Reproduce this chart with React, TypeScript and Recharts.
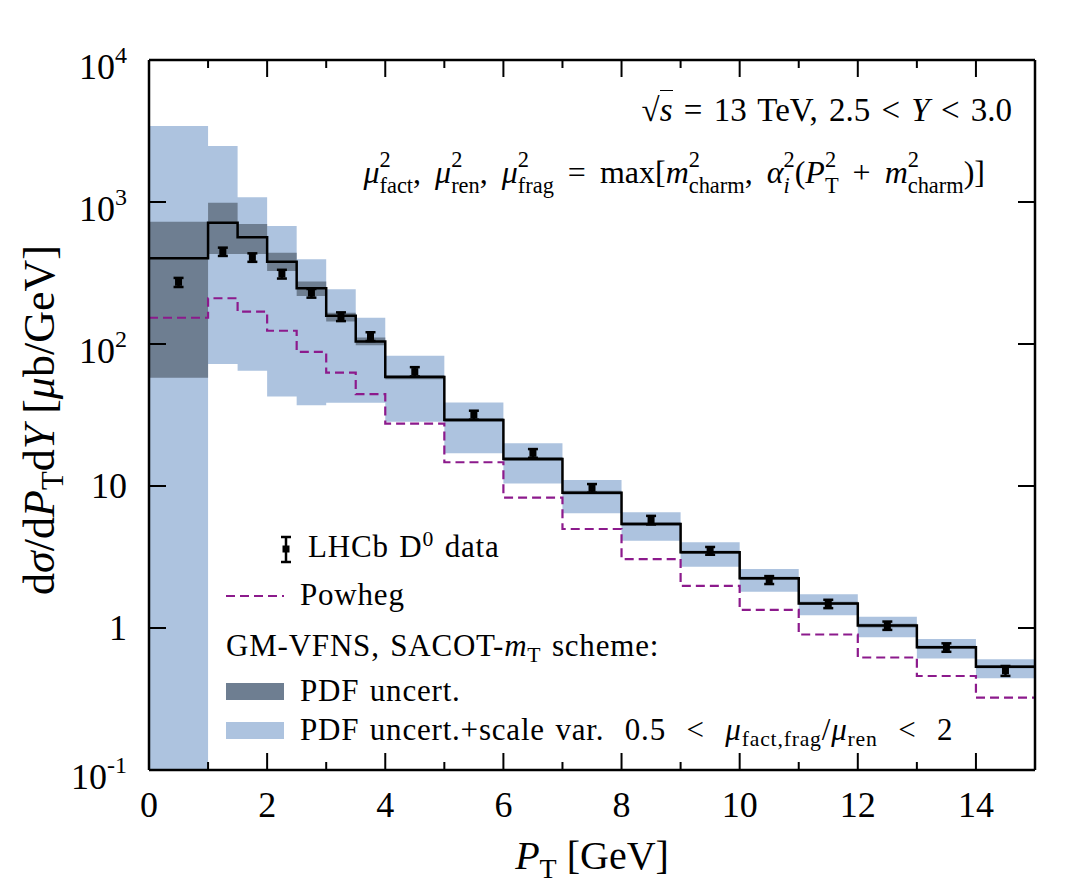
import React from "react";
import { ComposedChart, Area, Line, Scatter, ErrorBar, XAxis, YAxis } from "recharts";

const FONT = '"Liberation Serif", "DejaVu Serif", serif';
const W = 1068;
const H = 891;

// P_T bin edges [GeV]
const binEdges = [0, 1, 1.5, 2, 2.5, 3, 3.5, 4, 5, 6, 7, 8, 9, 10, 11, 12, 13, 14, 15];

// GM-VFNS (SACOT-mT) central values per bin [mub/GeV]
const gmvfnsCentral = [401, 715, 564, 380, 247, 158, 104, 58.5, 29.2, 15.5, 8.97, 5.4, 3.41, 2.24, 1.49, 1.04, 0.731, 0.534];
// PDF uncertainty band
const pdfLow = [57.9, 430, 430, 327, 218, 144, 98, 56.5, 28.3, 15.0, 8.7, 5.25, 3.32, 2.18, 1.45, 1.01, 0.712, 0.52];
const pdfHigh = [726, 988, 699, 440, 275, 166, 111, 60.5, 30.1, 16.0, 9.25, 5.55, 3.5, 2.3, 1.53, 1.07, 0.75, 0.548];
// PDF + scale variation band
const scaleLow = [0.1, 72.3, 64.8, 42.6, 37, 38.6, 38.6, 28.4, 17.0, 10.4, 6.42, 4.12, 2.7, 1.8, 1.23, 0.86, 0.611, 0.443];
const scaleHigh = [3428, 2479, 1079, 677, 395, 243, 153, 82.8, 38.8, 20.0, 11.0, 6.53, 4.01, 2.6, 1.73, 1.2, 0.837, 0.602];
// Powheg prediction
const powheg = [153, 210, 169, 124, 88, 62.8, 44.3, 27.5, 14.7, 8.28, 4.98, 3.06, 1.98, 1.34, 0.9, 0.62, 0.459, 0.323];

// LHCb D0 measurement
const lhcbPt = [0.5, 1.25, 1.75, 2.25, 2.75, 3.25, 3.75, 4.5, 5.5, 6.5, 7.5, 8.5, 9.5, 10.5, 11.5, 12.5, 13.5, 14.5];
const lhcbValue = [272, 447, 407, 311, 228, 156, 113, 63.9, 31.6, 17.0, 9.64, 5.76, 3.5, 2.18, 1.48, 1.04, 0.73, 0.5];
const lhcbErr = [20, 30, 28, 22, 16, 11, 8, 4.8, 2.3, 1.2, 0.68, 0.4, 0.22, 0.14, 0.1, 0.07, 0.05, 0.04];

const xTicks = [0, 1, 2, 3, 4, 5, 6, 7, 8, 9, 10, 11, 12, 13, 14, 15];
const yTicks = [0.1, 1, 10, 100, 1000, 10000];
const yTickBase = ["10", "1", "10", "10", "10", "10"];
const yTickExp = ["-1", "", "", "2", "3", "4"];

const binAt = (i: number) => Math.min(i, gmvfnsCentral.length - 1);
const stepRows = (vals: number[]) => binEdges.map((x, i) => ({ x, y: vals[binAt(i)] }));
const bandRows = (lo: number[], hi: number[]) =>
  binEdges.map((x, i) => ({ x, band: [lo[binAt(i)], hi[binAt(i)]] }));
const lhcbRows = lhcbPt.map((x, i) => ({ x, y: lhcbValue[i], err: lhcbErr[i] }));

const LIGHT = "#adc3df";
const DARK = "#6e7e91";
const PURPLE = "#8c1a8c";
const frame = { stroke: "#000", strokeWidth: 2.5 };

const BottomTick = ({ x, y, payload }: any) => {
  const major = payload.value % 2 === 0;
  return (
    <g>
      <line x1={x} x2={x} y1={y} y2={y - (major ? 17 : 8)} stroke="#000" strokeWidth={2} />
      {major && (
        <text x={x} y={y + 47} textAnchor="middle" fontSize={36} fontFamily={FONT} fill="#000">
          {payload.value}
        </text>
      )}
    </g>
  );
};

const TopTick = ({ x, y, payload }: any) => {
  const major = payload.value % 2 === 0;
  return <line x1={x} x2={x} y1={y} y2={y + (major ? 17 : 8)} stroke="#000" strokeWidth={2} />;
};

const LeftTick = ({ x, y, payload, index }: any) => {
  const i = yTicks.indexOf(payload.value);
  const k = i >= 0 ? i : index;
  const exp = yTickExp[k];
  return (
    <g>
      <line x1={x} x2={x + 17} y1={y} y2={y} stroke="#000" strokeWidth={2} />
      <text x={x - 22} y={y + (exp ? 19 : 12)} textAnchor="end" fontSize={36} fontFamily={FONT} fill="#000">
        {yTickBase[k]}
        {exp && (
          <tspan dy={-16} fontSize={24}>
            {exp}
          </tspan>
        )}
      </text>
    </g>
  );
};

const RightTick = ({ x, y }: any) => (
  <line x1={x} x2={x - 17} y1={y} y2={y} stroke="#000" strokeWidth={2} />
);

const LhcbMarker = ({ cx, cy }: any) => <rect x={cx - 3.5} y={cy - 3.5} width={7} height={7} fill="#000" />;

// script helpers for the math labels
const Sup = ({ children }: any) => (
  <span style={{ position: "relative", top: "-0.5em", fontSize: "0.7em" }}>{children}</span>
);
const Sub = ({ children }: any) => (
  <span style={{ position: "relative", top: "0.3em", fontSize: "0.7em" }}>{children}</span>
);
const SupSub = ({ sup, sub }: any) => (
  <span
    style={{
      display: "inline-flex",
      flexDirection: "column",
      position: "relative",
      top: "-0.7em",
      fontSize: "0.7em",
      lineHeight: 1.14,
      verticalAlign: "baseline",
      wordSpacing: 0,
      letterSpacing: 0,
    }}
  >
    <span>{sup}</span>
    <span>{sub}</span>
  </span>
);
const I = ({ children }: any) => <i>{children}</i>;

const textAt = (left: number, baseline: number, size: number, extra: any = {}) => ({
  position: "absolute" as const,
  left,
  top: baseline - 0.84 * size,
  fontSize: size,
  lineHeight: 1,
  fontFamily: FONT,
  whiteSpace: "nowrap" as const,
  color: "#000",
  ...extra,
});

const legendText = { letterSpacing: 0.8, wordSpacing: 2 };

export default function App() {
  return (
    <div style={{ position: "absolute", left: 0, top: 0, width: W, height: H, background: "#fff" }}>
      <ComposedChart width={W} height={H} margin={{ top: 59, right: 32, bottom: 120, left: 148 }}>
        <XAxis
          xAxisId="b"
          dataKey="x"
          type="number"
          domain={[0, 15]}
          ticks={xTicks}
          interval={0}
          height={1}
          tickSize={0}
          tickMargin={0}
          tickLine={false}
          axisLine={frame}
          tick={(p: any) => <BottomTick {...p} />}
          allowDataOverflow
        />
        <XAxis
          xAxisId="t"
          orientation="top"
          dataKey="x"
          type="number"
          domain={[0, 15]}
          ticks={xTicks}
          interval={0}
          height={1}
          tickSize={0}
          tickMargin={0}
          tickLine={false}
          axisLine={frame}
          tick={(p: any) => <TopTick {...p} />}
          allowDataOverflow
        />
        <YAxis
          yAxisId="l"
          type="number"
          scale="log"
          domain={[0.1, 10000]}
          ticks={yTicks}
          interval={0}
          width={1}
          tickSize={0}
          tickMargin={0}
          tickLine={false}
          axisLine={frame}
          tick={(p: any) => <LeftTick {...p} />}
          allowDataOverflow
        />
        <YAxis
          yAxisId="r"
          orientation="right"
          type="number"
          scale="log"
          domain={[0.1, 10000]}
          ticks={yTicks}
          interval={0}
          width={1}
          tickSize={0}
          tickMargin={0}
          tickLine={false}
          axisLine={frame}
          tick={(p: any) => <RightTick {...p} />}
          allowDataOverflow
        />
        <Area
          xAxisId="b"
          yAxisId="l"
          data={bandRows(scaleLow, scaleHigh)}
          dataKey="band"
          type="stepAfter"
          stroke="none"
          fill={LIGHT}
          fillOpacity={1}
          isAnimationActive={false}
        />
        <Area
          xAxisId="b"
          yAxisId="l"
          data={bandRows(pdfLow, pdfHigh)}
          dataKey="band"
          type="stepAfter"
          stroke="none"
          fill={DARK}
          fillOpacity={1}
          isAnimationActive={false}
        />
        <Line
          xAxisId="b"
          yAxisId="l"
          data={stepRows(powheg)}
          dataKey="y"
          type="stepAfter"
          stroke={PURPLE}
          strokeWidth={2.2}
          strokeDasharray="9 5"
          dot={false}
          activeDot={false}
          isAnimationActive={false}
        />
        <Line
          xAxisId="b"
          yAxisId="l"
          data={stepRows(gmvfnsCentral)}
          dataKey="y"
          type="stepAfter"
          stroke="#000"
          strokeWidth={2.5}
          dot={false}
          activeDot={false}
          isAnimationActive={false}
        />
        <Scatter
          xAxisId="b"
          yAxisId="l"
          data={lhcbRows}
          dataKey="y"
          fill="#000"
          shape={(p: any) => <LhcbMarker {...p} />}
          isAnimationActive={false}
        >
          <ErrorBar dataKey="err" direction="y" width={5} strokeWidth={2.5} stroke="#000" />
        </Scatter>
      </ComposedChart>

      {/* legend symbols */}
      <svg width={W} height={H} style={{ position: "absolute", left: 0, top: 0, pointerEvents: "none" }}>
        <line x1={286} x2={286} y1={537} y2={562} stroke="#000" strokeWidth={2.5} />
        <line x1={281} x2={291} y1={537} y2={537} stroke="#000" strokeWidth={2.5} />
        <line x1={281} x2={291} y1={562} y2={562} stroke="#000" strokeWidth={2.5} />
        <rect x={282.5} y={545.5} width={7} height={7} fill="#000" />
        <line x1={226} x2={284} y1={596} y2={596} stroke={PURPLE} strokeWidth={2.2} strokeDasharray="9 5" />
        <rect x={226} y={683} width={58} height={17} fill={DARK} />
        <rect x={226} y={722} width={58} height={17} fill={LIGHT} />
      </svg>

      <div style={textAt(308, 557, 31, legendText)}>
        LHCb D<Sup>0</Sup> data
      </div>
      <div style={textAt(300, 605, 31, legendText)}>Powheg</div>
      <div style={textAt(226, 656, 31, legendText)}>
        GM-VFNS, SACOT-<I>m</I>
        <Sub>T</Sub> scheme:
      </div>
      <div style={textAt(300, 701, 31, legendText)}>PDF uncert.</div>
      <div style={textAt(300, 740, 31, legendText)}>
        PDF uncert.+scale var.
        <span style={{ wordSpacing: 12 }}>
          {" "}
          0.5 &lt; <I>μ</I>
          <Sub>fact,frag</Sub>/<I>μ</I>
          <Sub>ren</Sub> &lt; 2
        </span>
      </div>

      <div style={textAt(0, 122, 33, { left: undefined, right: W - 1012, wordSpacing: 3 })}>
        √<span style={{ borderTop: "1.5px solid #000", paddingTop: 1 }}>
          <I>s</I>
        </span>{" "}
        = 13 TeV, 2.5 &lt; <I>Y</I> &lt; 3.0
      </div>
      <div style={textAt(0, 183, 32, { left: undefined, right: W - 985, wordSpacing: 6 })}>
        <I>μ</I>
        <SupSub sup="2" sub="fact" />, <I>μ</I>
        <SupSub sup="2" sub="ren" />, <I>μ</I>
        <SupSub sup="2" sub="frag" /> = max[<I>m</I>
        <SupSub sup="2" sub="charm" />, <I>α</I>
        <SupSub sup="2" sub={<I>i</I>} />(<I>P</I>
        <SupSub sup="2" sub="T" /> + <I>m</I>
        <SupSub sup="2" sub="charm" />)]
      </div>

      <div style={textAt(342, 870, 40, { width: 500, textAlign: "center" })}>
        <I>P</I>
        <Sub>T</Sub> [GeV]
      </div>
      <div
        style={{
          position: "absolute",
          left: 55 - 0.84 * 44,
          top: 670,
          width: 500,
          textAlign: "center",
          fontSize: 44,
          lineHeight: 1,
          fontFamily: FONT,
          whiteSpace: "nowrap",
          transformOrigin: "0 0",
          transform: "rotate(-90deg)",
        }}
      >
        d<I>σ</I>/d<I>P</I>
        <Sub>T</Sub>d<I>Y</I> [<I>μ</I>b/GeV]
      </div>
    </div>
  );
}
